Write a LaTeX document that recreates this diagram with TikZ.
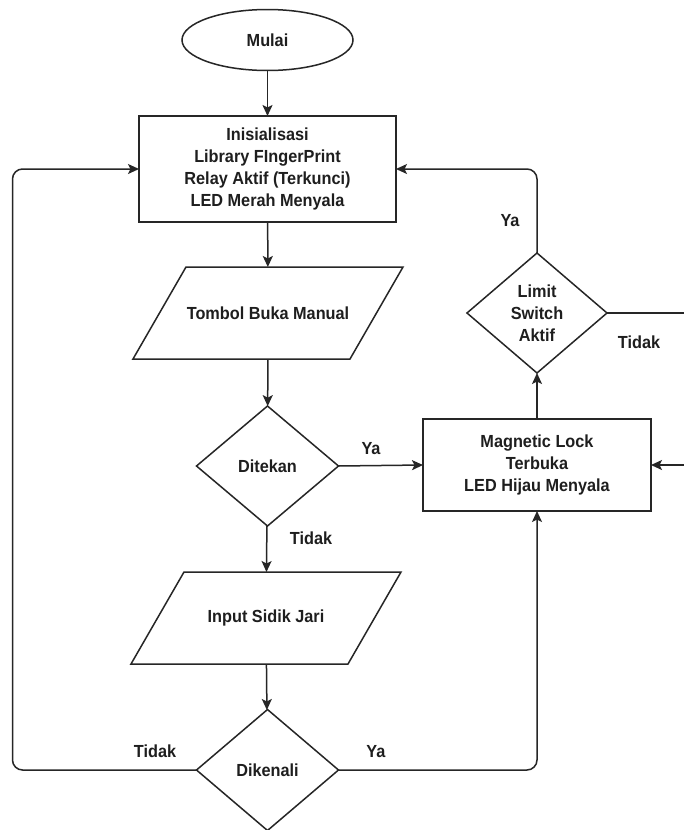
\documentclass[tikz,border=0pt]{standalone}
\usepackage{fontspec}
\setmainfont{Liberation Sans}[FakeStretch=0.93]
\usetikzlibrary{shapes.geometric,arrows.meta}
\definecolor{linec}{HTML}{262626}
\definecolor{textc}{HTML}{1E1E1E}
\newcommand{\txtfont}{\fontsize{17.5}{22}\selectfont\bfseries}
\begin{document}
\begin{tikzpicture}[x=1pt,y=-1pt,
  base/.style={draw=linec, line width=1.5pt, outer sep=0pt, inner sep=0pt, font=\txtfont, text=textc, align=center, fill=white},
  term/.style={base, ellipse, minimum width=171pt, minimum height=61pt},
  proc/.style={base, rectangle},
  io/.style={base, draw=none, fill=none, rectangle, minimum width=217pt, minimum height=92pt},
  iobox/.style={draw=linec, line width=1.5pt, line join=miter},
  dec/.style={base, diamond, minimum width=142pt, minimum height=120pt},
  arr/.style={draw=linec, line width=1.5pt, -{Stealth[length=11pt,width=10pt,inset=2.5pt]}, rounded corners=10pt},
  plain/.style={draw=linec, line width=1.5pt, rounded corners=10pt},
  lbl/.style={font=\txtfont, text=textc, inner sep=0pt}]
\fill[white] (0,0) rectangle (684,830);
\useasboundingbox (0,0) rectangle (684,830);

\node[term] (mulai) at (267.5,40) {Mulai};
\node[proc, minimum width=257pt, minimum height=106pt] (init) at (267.5,169) {Inisialisasi\\Library FIngerPrint\\Relay Aktif (Terkunci)\\LED Merah Menyala};
\node[io] (tombol) at (268,313) {Tombol Buka Manual};
\draw[iobox] ([xshift=-26.5pt]tombol.south west) -- ([xshift=-26.5pt]tombol.south east) -- ([xshift=26.5pt]tombol.north east) -- ([xshift=26.5pt]tombol.north west) -- cycle;
\node[dec] (ditekan) at (267.5,466) {Ditekan};
\node[io] (input) at (266,618) {Input Sidik Jari};
\draw[iobox] ([xshift=-26.5pt]input.south west) -- ([xshift=-26.5pt]input.south east) -- ([xshift=26.5pt]input.north east) -- ([xshift=26.5pt]input.north west) -- cycle;
\node[dec, minimum height=121pt] (dikenali) at (267.5,770) {Dikenali};
\node[proc, minimum width=228pt, minimum height=92pt] (mag) at (537,465) {Magnetic Lock\\Terbuka\\LED Hijau Menyala};
\node[dec, minimum width=140pt] (limit) at (537,313) {Limit\\Switch\\Aktif};

\coordinate (re1) at (684,313);
\coordinate (re2) at (684,465);

\draw[arr] (mulai) -- (init);
\draw[arr] (init) -- (tombol);
\draw[arr] (tombol) -- (ditekan);
\draw[arr] (ditekan) -- (input);
\draw[arr] (input) -- (dikenali);
\draw[arr] (ditekan.east) -- (mag.west);
\draw[arr] (dikenali.west) -- ++(-184,0) |- (init.west);
\draw[arr] (dikenali.east) -| (mag.south);
\draw[arr] (mag.north) -- (limit.south);
\draw[arr] (limit.north) |- (init.east);
\draw[plain] (limit.east) -- (re1);
\draw[arr] (re2) -- (mag.east);

\node[lbl] (l1) at (311,538) {Tidak};
\node[lbl] (l2) at (371,449) {Ya};
\node[lbl] (l3) at (155,751) {Tidak};
\node[lbl] (l4) at (376,752) {Ya};
\node[lbl] (l5) at (510,221) {Ya};
\node[lbl] (l6) at (639,342) {Tidak};
\end{tikzpicture}
\end{document}
